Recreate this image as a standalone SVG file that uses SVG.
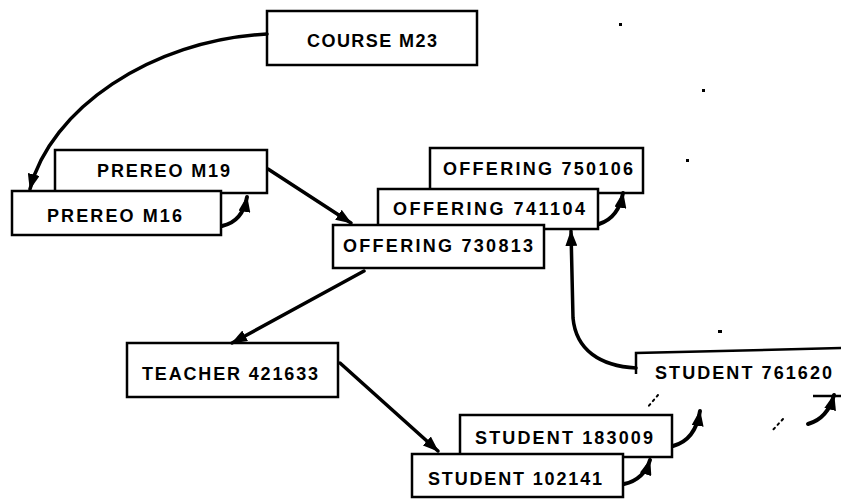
<svg xmlns="http://www.w3.org/2000/svg" width="841" height="501" viewBox="0 0 841 501">
<style>
  .box { fill: #fff; stroke: #000; stroke-width: 2.5; }
  .lbl { font-family: "Liberation Sans", Arial, sans-serif; font-weight: bold; font-size: 18px; fill: #000; }
  .con { fill: none; stroke: #000; stroke-width: 3.5; stroke-linecap: round; }
  .hook { fill: none; stroke: #000; stroke-width: 4; stroke-linecap: round; }
  .dot { fill: none; stroke: #000; stroke-width: 2; stroke-dasharray: 2 4; stroke-linecap: round; }
</style>
<defs>
  <marker id="ah" viewBox="0 0 16 12" refX="15" refY="6" markerWidth="16" markerHeight="12" markerUnits="userSpaceOnUse" orient="auto">
    <path d="M0,0 L16,6 L0,12 Z" fill="#000"/>
  </marker>
</defs>
<rect width="841" height="501" fill="#fff"/>

<g id="course-m23">
  <rect class="box" x="267" y="11" width="210" height="54"/>
  <text class="lbl" x="307" y="47" textLength="130" lengthAdjust="spacing">COURSE M23</text>
</g>

<g id="prereo-m19">
  <rect class="box" x="55" y="150" width="212" height="43"/>
  <text class="lbl" x="97" y="177" textLength="133" lengthAdjust="spacing">PREREO M19</text>
</g>
<g id="prereo-m16">
  <rect class="box" x="12" y="191" width="209" height="44"/>
  <text class="lbl" x="47" y="222" textLength="135" lengthAdjust="spacing">PREREO M16</text>
</g>

<g id="offering-750106">
  <rect class="box" x="430" y="148" width="213" height="45"/>
  <text class="lbl" x="443" y="175" textLength="190" lengthAdjust="spacing">OFFERING 750106</text>
</g>
<g id="offering-741104">
  <rect class="box" x="378" y="189" width="220" height="40"/>
  <text class="lbl" x="393" y="215" textLength="192" lengthAdjust="spacing">OFFERING 741104</text>
</g>
<g id="offering-730813">
  <rect class="box" x="333" y="225" width="211" height="43"/>
  <text class="lbl" x="343" y="252" textLength="190" lengthAdjust="spacing">OFFERING 730813</text>
</g>

<g id="teacher-421633">
  <rect class="box" x="127" y="343" width="211" height="54"/>
  <text class="lbl" x="142" y="380" textLength="176" lengthAdjust="spacing">TEACHER 421633</text>
</g>

<g id="student-761620">
  <path d="M636,374 V353 L841,348" fill="none" stroke="#000" stroke-width="2.5"/>
  <text class="lbl" x="655" y="379" textLength="177" lengthAdjust="spacing">STUDENT 761620</text>
</g>
<g id="student-183009">
  <rect class="box" x="460" y="415" width="212" height="42"/>
  <text class="lbl" x="475" y="444" textLength="178" lengthAdjust="spacing">STUDENT 183009</text>
</g>
<g id="student-102141">
  <rect class="box" x="412" y="454" width="211" height="43"/>
  <text class="lbl" x="428" y="485" textLength="174" lengthAdjust="spacing">STUDENT 102141</text>
</g>

<g id="connectors">
  <path class="con" d="M267,34 C150,40 50,110 30,189" marker-end="url(#ah)"/>
  <path class="hook" d="M222,226 C236,223 244,214 247,197" marker-end="url(#ah)"/>
  <path class="con" d="M268,169 L351,223" marker-end="url(#ah)"/>
  <path class="hook" d="M599,224 C612,220 620,210 623,193" marker-end="url(#ah)"/>
  <path class="con" d="M636,368 C600,366 576,350 573,318 L571,231" marker-end="url(#ah)"/>
  <path class="con" d="M364,271 L232,343" marker-end="url(#ah)"/>
  <path class="con" d="M340,363 L438,451" marker-end="url(#ah)"/>
  <path class="hook" d="M624,484 C638,481 646,473 650,460" marker-end="url(#ah)"/>
  <path class="hook" d="M673,446 C688,442 697,430 700,411" marker-end="url(#ah)"/>
  <path class="hook" d="M808,424 C822,420 830,410 834,395" marker-end="url(#ah)"/>
  <path d="M813,396 H841" fill="none" stroke="#000" stroke-width="2.5"/>
  <path class="dot" d="M658,395 L647,408"/>
  <path class="dot" d="M783,419 L771,432"/>
</g>

<g id="specks" fill="#000">
  <rect x="619" y="23" width="3" height="3"/>
  <rect x="702" y="89" width="3" height="3"/>
  <rect x="686" y="159" width="3" height="3"/>
  <rect x="718" y="330" width="4" height="3"/>
</g>
</svg>
